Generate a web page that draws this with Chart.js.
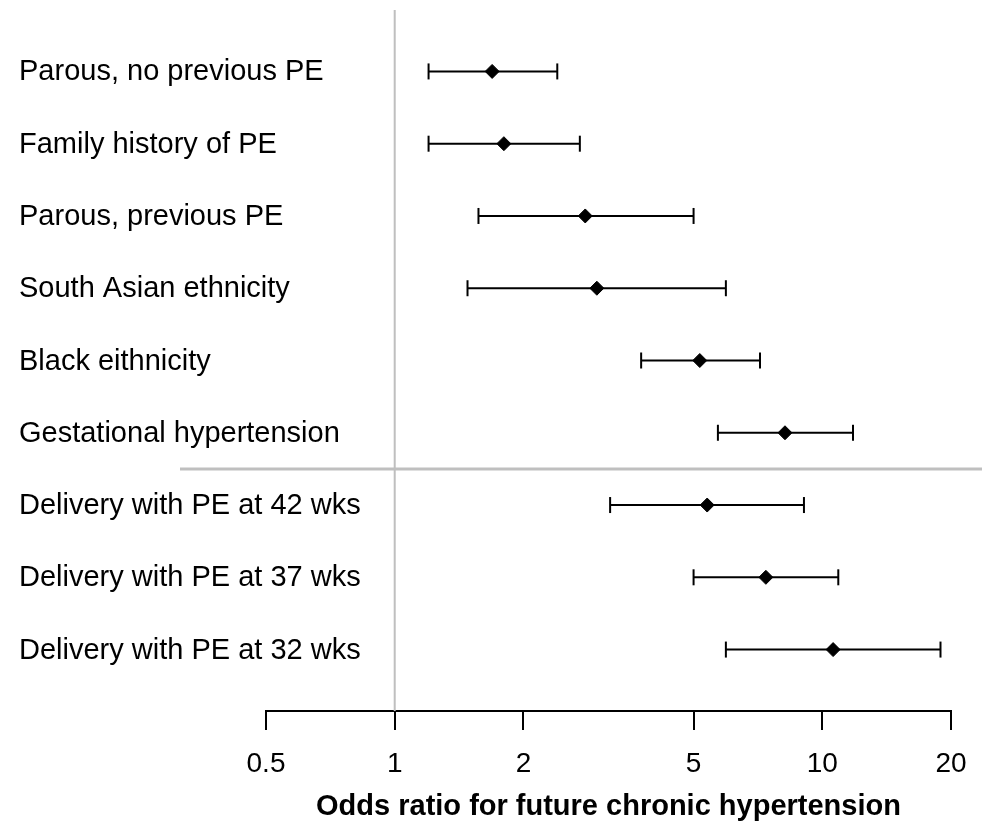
<!DOCTYPE html>
<html>
<head>
<meta charset="utf-8">
<script src="https://cdn.jsdelivr.net/npm/chart.js@4/dist/chart.umd.min.js"></script>
<style>
	html, body { margin: 0; padding: 0; background: #fff; }
	#wrap { width: 985px; height: 827px; position: relative; }
</style>
</head>
<body>
<div id="wrap"><canvas id="Chart"></canvas></div>
<script>
var labels = [
	"Parous, no previous PE",
	"Family history of PE",
	"Parous, previous PE",
	"South Asian ethnicity",
	"Black eithnicity",
	"Gestational hypertension",
	"Delivery with PE at 42 wks",
	"Delivery with PE at 37 wks",
	"Delivery with PE at 32 wks"
];
var oddsRatio = [1.69, 1.80, 2.79, 2.97, 5.17, 8.18, 5.38, 7.38, 10.6];
var ciLow = [1.20, 1.20, 1.57, 1.48, 3.77, 5.70, 3.19, 5.00, 5.95];
var ciHigh = [2.40, 2.71, 5.00, 5.95, 7.15, 11.8, 9.06, 10.9, 18.9];
var xTicks = [0.5, 1, 2, 5, 10, 20];
var nullValue = 1;
var groupBreak = 5.5;

var FONT = "'Liberation Sans', Arial, Helvetica, sans-serif";
var GREY = "#bfbfbf";

// gray reference line at OR = 1, the separator between the two groups, and the row names
var guides = {
	id: "guides",
	beforeDatasetsDraw: function (chart)
	{
		var ctx = chart.ctx;
		var area = chart.chartArea;
		var yScale = chart.scales.y;
		var x = chart.scales.x.getPixelForValue(nullValue);
		var y = yScale.getPixelForValue(groupBreak);
		ctx.save();
		ctx.strokeStyle = GREY;
		ctx.lineWidth = 2;
		ctx.beginPath();
		ctx.moveTo(x, area.top);
		ctx.lineTo(x, area.bottom);
		ctx.stroke();
		ctx.lineWidth = 3;
		ctx.beginPath();
		ctx.moveTo(area.left - 86, y);
		ctx.lineTo(area.right + 31, y);
		ctx.stroke();

		ctx.fillStyle = "#000";
		ctx.font = "29px " + FONT;
		ctx.textAlign = "left";
		ctx.textBaseline = "middle";
		labels.forEach(function (l, i)
		{
			ctx.fillText(l, 19, yScale.getPixelForValue(i) + 1);
		});
		ctx.restore();
	}
};

var datasets = [];
labels.forEach(function (l, i)
{
	datasets.push({
		type: "scatter",
		data: [{x: ciLow[i], y: i}, {x: ciHigh[i], y: i}],
		showLine: true,
		borderColor: "#000",
		borderWidth: 2,
		pointStyle: "line",
		rotation: 90,
		pointRadius: 8,
		pointBorderWidth: 2,
		pointBorderColor: "#000",
		order: 2
	});
});
datasets.push({
	type: "scatter",
	data: oddsRatio.map(function (v, i) { return {x: v, y: i}; }),
	pointStyle: "rectRot",
	pointRadius: 7,
	pointBorderWidth: 1,
	pointBackgroundColor: "#000",
	pointBorderColor: "#000",
	order: 1
});

new Chart(document.getElementById("Chart"), {
	type: "scatter",
	data: {datasets: datasets},
	plugins: [guides],
	options: {
		responsive: true,
		maintainAspectRatio: false,
		animation: false,
		events: [],
		layout: {padding: {left: 266, right: 34, top: 9, bottom: 0}},
		plugins: {legend: {display: false}, tooltip: {enabled: false}},
		scales: {
			x: {
				type: "logarithmic",
				min: 0.5,
				max: 20,
				afterBuildTicks: function (scale)
				{
					scale.ticks = xTicks.map(function (v) { return {value: v}; });
				},
				afterFit: function (scale)
				{
					scale.height = 116;
				},
				grid: {drawOnChartArea: false, drawTicks: true, tickLength: 19, color: "#000", lineWidth: 2},
				border: {display: true, color: "#000", width: 2},
				ticks: {
					color: "#000",
					padding: 17,
					maxRotation: 0,
					autoSkip: false,
					font: {family: FONT, size: 28},
					callback: function (v) { return String(v); }
				},
				title: {
					display: true,
					text: "Odds ratio for future chronic hypertension",
					color: "#000",
					font: {family: FONT, size: 29, weight: "bold"},
					padding: {top: 0, bottom: 3}
				}
			},
			y: {
				type: "linear",
				display: false,
				reverse: true,
				min: -0.85,
				max: 8.85
			}
		}
	}
});
</script>
</body>
</html>
